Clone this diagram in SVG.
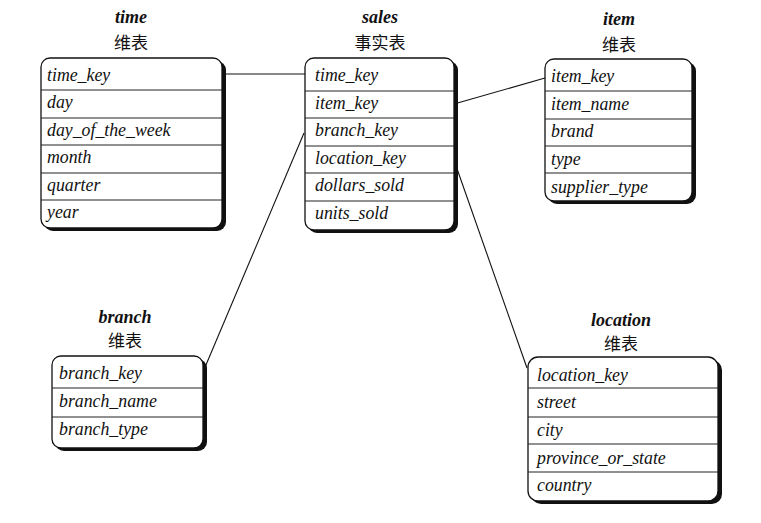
<svg xmlns="http://www.w3.org/2000/svg" width="761" height="523" viewBox="0 0 761 523">
<style>
.box{fill:#fff;stroke:#111;stroke-width:1.3}
.sh{fill:#111}
.div{stroke:#222;stroke-width:1}
.f{font-family:"Liberation Serif","Times New Roman",serif;font-style:italic;font-size:17.8px;fill:#111}
.t{font-family:"Liberation Serif","Times New Roman",serif;font-style:italic;font-weight:bold;font-size:18px;fill:#111;text-anchor:middle}
.c{font-family:"Noto Sans CJK SC",sans-serif;font-size:17px;fill:#111;text-anchor:middle}
.con{stroke:#111;stroke-width:1.1;fill:none}
</style>
<rect width="761" height="523" fill="#fff"/>
<g id="connectors">
<line class="con" x1="222" y1="74" x2="305" y2="74"/>
<line class="con" x1="454" y1="104" x2="545" y2="78"/>
<line class="con" x1="304" y1="133" x2="203" y2="372"/>
<line class="con" x1="455" y1="163" x2="527" y2="368"/>
</g>
<g id="time">
<text class="t" x="131" y="23">time</text>
<text class="c" x="131" y="49">维表</text>
<rect class="sh" x="44" y="61" width="182" height="170" rx="9"/>
<rect class="box" x="41" y="58" width="181" height="170" rx="9"/>
<line class="div" x1="41" y1="90" x2="222" y2="90"/>
<line class="div" x1="41" y1="118" x2="222" y2="118"/>
<line class="div" x1="41" y1="145" x2="222" y2="145"/>
<line class="div" x1="41" y1="173" x2="222" y2="173"/>
<line class="div" x1="41" y1="200" x2="222" y2="200"/>
<text class="f" x="47" y="81">time_key</text>
<text class="f" x="47" y="108">day</text>
<text class="f" x="47" y="136">day_of_the_week</text>
<text class="f" x="47" y="163">month</text>
<text class="f" x="47" y="191">quarter</text>
<text class="f" x="47" y="218">year</text>
</g>
<g id="sales">
<text class="t" x="380" y="23">sales</text>
<text class="c" x="380" y="49">事实表</text>
<rect class="sh" x="308" y="61" width="150" height="172" rx="9"/>
<rect class="box" x="305" y="58" width="149" height="172" rx="9"/>
<line class="div" x1="305" y1="91" x2="454" y2="91"/>
<line class="div" x1="305" y1="118" x2="454" y2="118"/>
<line class="div" x1="305" y1="146" x2="454" y2="146"/>
<line class="div" x1="305" y1="173" x2="454" y2="173"/>
<line class="div" x1="305" y1="201" x2="454" y2="201"/>
<text class="f" x="315" y="81">time_key</text>
<text class="f" x="315" y="109">item_key</text>
<text class="f" x="315" y="136">branch_key</text>
<text class="f" x="315" y="164">location_key</text>
<text class="f" x="315" y="191">dollars_sold</text>
<text class="f" x="315" y="219">units_sold</text>
</g>
<g id="item">
<text class="t" x="619" y="25">item</text>
<text class="c" x="619" y="51">维表</text>
<rect class="sh" x="548" y="62" width="148" height="142" rx="9"/>
<rect class="box" x="545" y="59" width="147" height="142" rx="9"/>
<line class="div" x1="545" y1="91" x2="692" y2="91"/>
<line class="div" x1="545" y1="119" x2="692" y2="119"/>
<line class="div" x1="545" y1="146" x2="692" y2="146"/>
<line class="div" x1="545" y1="173" x2="692" y2="173"/>
<text class="f" x="551" y="82">item_key</text>
<text class="f" x="551" y="110">item_name</text>
<text class="f" x="551" y="137">brand</text>
<text class="f" x="551" y="165">type</text>
<text class="f" x="551" y="193">supplier_type</text>
</g>
<g id="branch">
<text class="t" x="125" y="323">branch</text>
<text class="c" x="125" y="347">维表</text>
<rect class="sh" x="55" y="359" width="152" height="92" rx="9"/>
<rect class="box" x="52" y="356" width="151" height="92" rx="9"/>
<line class="div" x1="52" y1="388" x2="203" y2="388"/>
<line class="div" x1="52" y1="417" x2="203" y2="417"/>
<text class="f" x="59" y="379">branch_key</text>
<text class="f" x="59" y="407">branch_name</text>
<text class="f" x="59" y="435">branch_type</text>
</g>
<g id="location">
<text class="t" x="621" y="326">location</text>
<text class="c" x="621" y="350">维表</text>
<rect class="sh" x="531" y="360" width="191" height="144" rx="10"/>
<rect class="box" x="528" y="357" width="190" height="144" rx="10"/>
<line class="div" x1="528" y1="388" x2="718" y2="388"/>
<line class="div" x1="528" y1="417" x2="718" y2="417"/>
<line class="div" x1="528" y1="444" x2="718" y2="444"/>
<line class="div" x1="528" y1="472" x2="718" y2="472"/>
<text class="f" x="537" y="381">location_key</text>
<text class="f" x="537" y="408">street</text>
<text class="f" x="537" y="436">city</text>
<text class="f" x="537" y="464">province_or_state</text>
<text class="f" x="537" y="491">country</text>
</g>
</svg>
